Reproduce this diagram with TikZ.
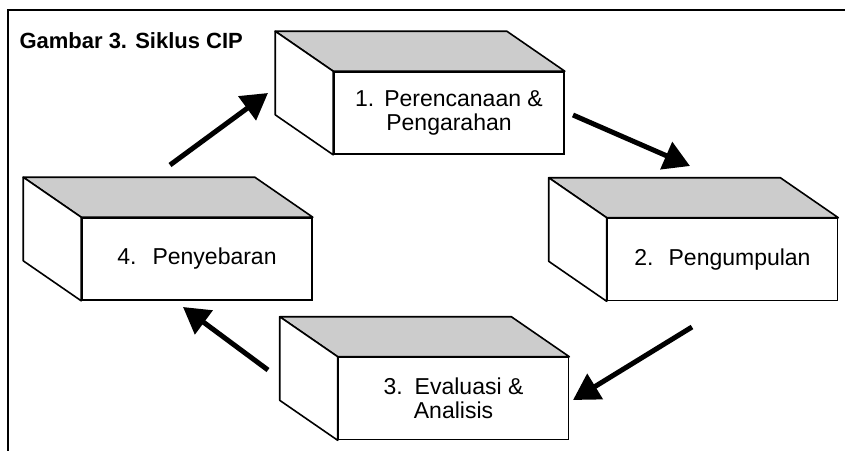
\documentclass[tikz,border=0pt]{standalone}
\usepackage{fontspec}
\setmainfont{Liberation Sans}
\usetikzlibrary{arrows.meta,calc}

\tikzset{
  front/.style={draw, line width=1.6pt, fill=white, minimum width=230pt,
    minimum height=82pt, inner sep=0pt, align=center,
    font=\fontsize{23}{24}\selectfont},
  topface/.style={draw, line width=1.6pt, fill=gray!40, line join=round},
  sideface/.style={draw, line width=1.6pt, fill=white, line join=round},
  flow/.style={line width=5pt, -{Triangle[length=26pt,width=29pt]}},
}

% top and left faces of a block, depth (-58,-40)
\newcommand{\blockfaces}[1]{%
  \draw[topface] (#1.north west) -- ++(-58,-40)
    -- ($(#1.north east)+(-58,-40)$) -- (#1.north east) -- cycle;
  \draw[sideface] (#1.north west) -- ++(-58,-40)
    -- ($(#1.south west)+(-58,-40)$) -- (#1.south west) -- cycle;
}

\begin{document}
\begin{tikzpicture}[x=1pt, y=-1pt]
  \useasboundingbox (0,0) rectangle (845,451);
  % frame
  \draw[line width=2pt] (845,10) -- (8,10) -- (8,451);
  \node[anchor=base west, font=\fontsize{22}{24}\selectfont\bfseries] (title)
    at (16,48) {Gambar 3. Siklus CIP};

  % blocks
  \node[front] (plan) at (449,113) {1.\hspace{10pt}Perencanaan \&\\Pengarahan};
  \node[front] (collect) at (722.5,259.5) {2.\hspace{15pt}Pengumpulan};
  \node[front] (eval) at (453.5,398.5) {3.\hspace{12pt}Evaluasi \&\\Analisis};
  \node[front] (spread) at (197,259) {4.\hspace{16pt}Penyebaran};
  \blockfaces{plan}
  \blockfaces{collect}
  \blockfaces{eval}
  \blockfaces{spread}

  % cycle arrows
  \coordinate (a1s) at (170,165); \coordinate (a1e) at (268,93);
  \coordinate (a2s) at (573,115); \coordinate (a2e) at (690,166);
  \coordinate (a3s) at (692,327); \coordinate (a3e) at (573,400);
  \coordinate (a4s) at (268,370); \coordinate (a4e) at (183,307);
  \draw[flow] (a1s) -- (a1e);
  \draw[flow] (a2s) -- (a2e);
  \draw[flow] (a3s) -- (a3e);
  \draw[flow] (a4s) -- (a4e);
\end{tikzpicture}
\end{document}
